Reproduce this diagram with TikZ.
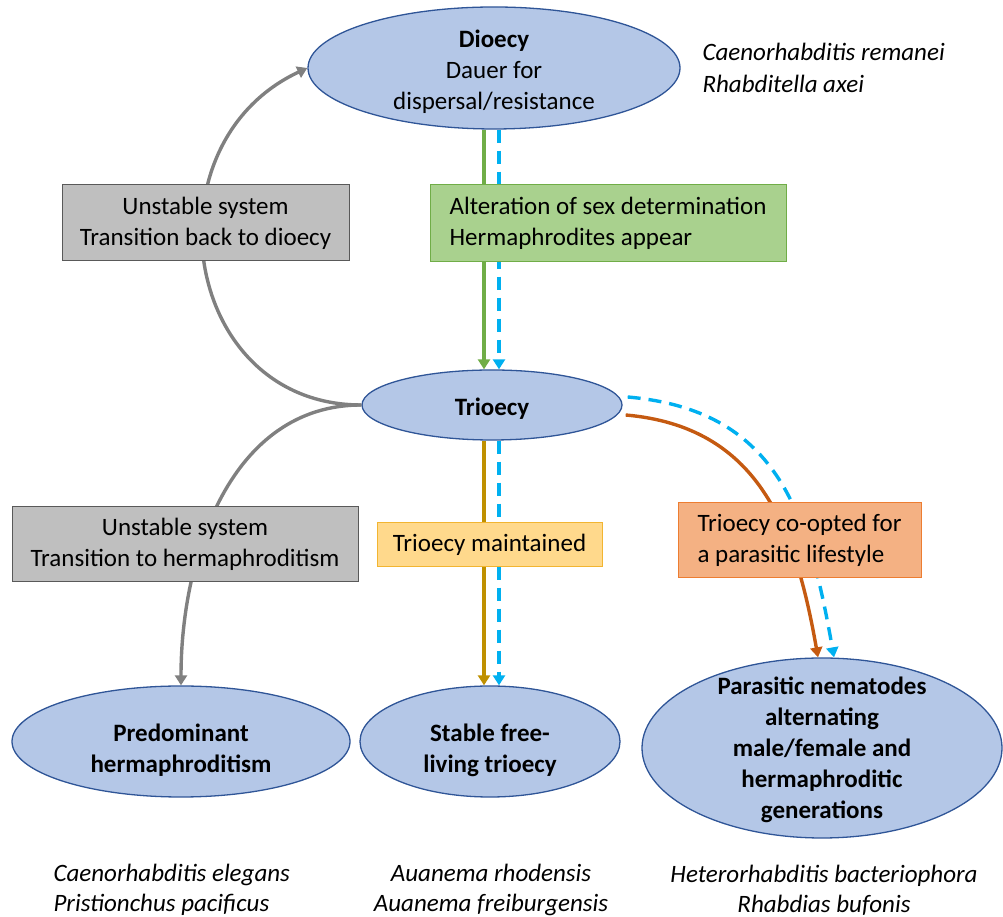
\documentclass[tikz,border=0pt]{standalone}
\usepackage{fontspec}
\setmainfont{Carlito}
\usetikzlibrary{arrows.meta,shapes.geometric}

\begin{document}
\begin{tikzpicture}[x=1pt, y=1pt,
    every node/.style={font=\fontsize{25}{31}\selectfont},
    bubble/.style={ellipse, draw=ellBorder, fill=ellFill, line width=1.3pt, inner sep=0pt},
    title/.style={font=\fontsize{25}{31}\selectfont\bfseries, align=center},
    panel/.style={rectangle, draw=#1Border, fill=#1Fill, line width=1pt, inner sep=0pt},
    link/.style={line width=3.4pt, -{Triangle[length=10pt,width=12pt]}},
    linkdash/.style={link, draw=arrBlue, dash pattern=on 13pt off 8pt}]

    \definecolor{ellFill}{HTML}{B4C7E7}
    \definecolor{ellBorder}{HTML}{2F5597}
    \definecolor{greyFill}{HTML}{BFBFBF}
    \definecolor{greyBorder}{HTML}{595959}
    \definecolor{greenFill}{HTML}{A9D18E}
    \definecolor{greenBorder}{HTML}{70AD47}
    \definecolor{yellowFill}{HTML}{FFD98C}
    \definecolor{yellowBorder}{HTML}{F2B531}
    \definecolor{orangeFill}{HTML}{F4B183}
    \definecolor{orangeBorder}{HTML}{ED7D31}
    \definecolor{arrGrey}{HTML}{808080}
    \definecolor{arrGreen}{HTML}{70AD47}
    \definecolor{arrBlue}{HTML}{00B0F0}
    \definecolor{arrGold}{HTML}{BF9000}
    \definecolor{arrOrange}{HTML}{C55A11}

    % Page frame
    \useasboundingbox (0,0) rectangle (1003,917);

    % Draw states
    \node[bubble, minimum width=372, minimum height=122] (dioecy) at (494,849) {};
    \node[align=center] (dioecytxt) at (494,845)
        {\textbf{Dioecy}\\Dauer for\\dispersal/resistance};
    \node[bubble, minimum width=260, minimum height=70] (trioecy) at (492,512) {};
    \node[title] (trioecytxt) at (492,508) {Trioecy};
    \node[bubble, minimum width=338, minimum height=111] (predom) at (181,175.5) {};
    \node[title] (predomtxt) at (181,167) {Predominant\\hermaphroditism};
    \node[bubble, minimum width=260, minimum height=111] (stable) at (490,175.5) {};
    \node[title] (stabletxt) at (490,167) {Stable free-\\living trioecy};
    \node[bubble, minimum width=360, minimum height=180] (parasit) at (822,169) {};
    \node[title] (parasittxt) at (822,167)
        {Parasitic nematodes\\alternating\\male/female and\\hermaphroditic\\generations};

    % Draw transitions
    \draw[link, draw=arrGreen] ([xshift=-10pt]dioecy.south) -- ([xshift=-8pt]trioecy.north);
    \draw[linkdash] ([xshift=5pt]dioecy.south) -- ([xshift=7pt]trioecy.north);
    \draw[link, draw=arrGrey] (trioecy.west) to[out=180, in=205, looseness=1.35] (dioecy.west);
    \draw[link, draw=arrGrey] (trioecy.west) to[out=180, in=90] (predom.north);
    \draw[link, draw=arrGold] ([xshift=-8pt]trioecy.south) -- ([xshift=-6pt]stable.north);
    \draw[linkdash] ([xshift=7pt]trioecy.south) -- ([xshift=9pt]stable.north);
    \draw[link, draw=arrOrange] ([shift={(3,-10)}]trioecy.east) to[out=-5, in=100, looseness=1.1] ([xshift=-4pt]parasit.north);
    \draw[linkdash] ([shift={(5,8)}]trioecy.east) to[out=-5, in=100, looseness=1.15] ([xshift=12pt]parasit.north);

    % Draw labels on the transitions
    \node[panel=green, minimum width=356, minimum height=77, align=left] (altered) at (608,694)
        {Alteration of sex determination\\Hermaphrodites appear};
    \node[panel=grey, minimum width=287, minimum height=76, align=center] (backdio) at (205.5,694)
        {Unstable system\\Transition back to dioecy};
    \node[panel=grey, minimum width=346, minimum height=75, align=center] (tohermaph) at (185,372.5)
        {Unstable system\\Transition to hermaphroditism};
    \node[panel=yellow, minimum width=225, minimum height=44] (kept) at (489.5,372) {Trioecy maintained};
    \node[panel=orange, minimum width=243, minimum height=75, align=left] (coopted) at (799.5,376.5)
        {Trioecy co-opted for\\a parasitic lifestyle};

    % Species examples
    \node[anchor=west, align=left, font=\fontsize{25}{32}\selectfont\itshape] (sptop) at (699,849)
        {Caenorhabditis remanei\\Rhabditella axei};
    \node[anchor=west, align=left, font=\fontsize{25}{30}\selectfont\itshape] (spleft) at (50,27)
        {Caenorhabditis elegans\\Pristionchus pacificus};
    \node[align=center, font=\fontsize{25}{30}\selectfont\itshape] (spmid) at (491,27)
        {Auanema rhodensis\\Auanema freiburgensis};
    \node[align=center, font=\fontsize{25}{30}\selectfont\itshape] (spright) at (824,27)
        {Heterorhabditis bacteriophora\\Rhabdias bufonis};

\end{tikzpicture}
\end{document}
